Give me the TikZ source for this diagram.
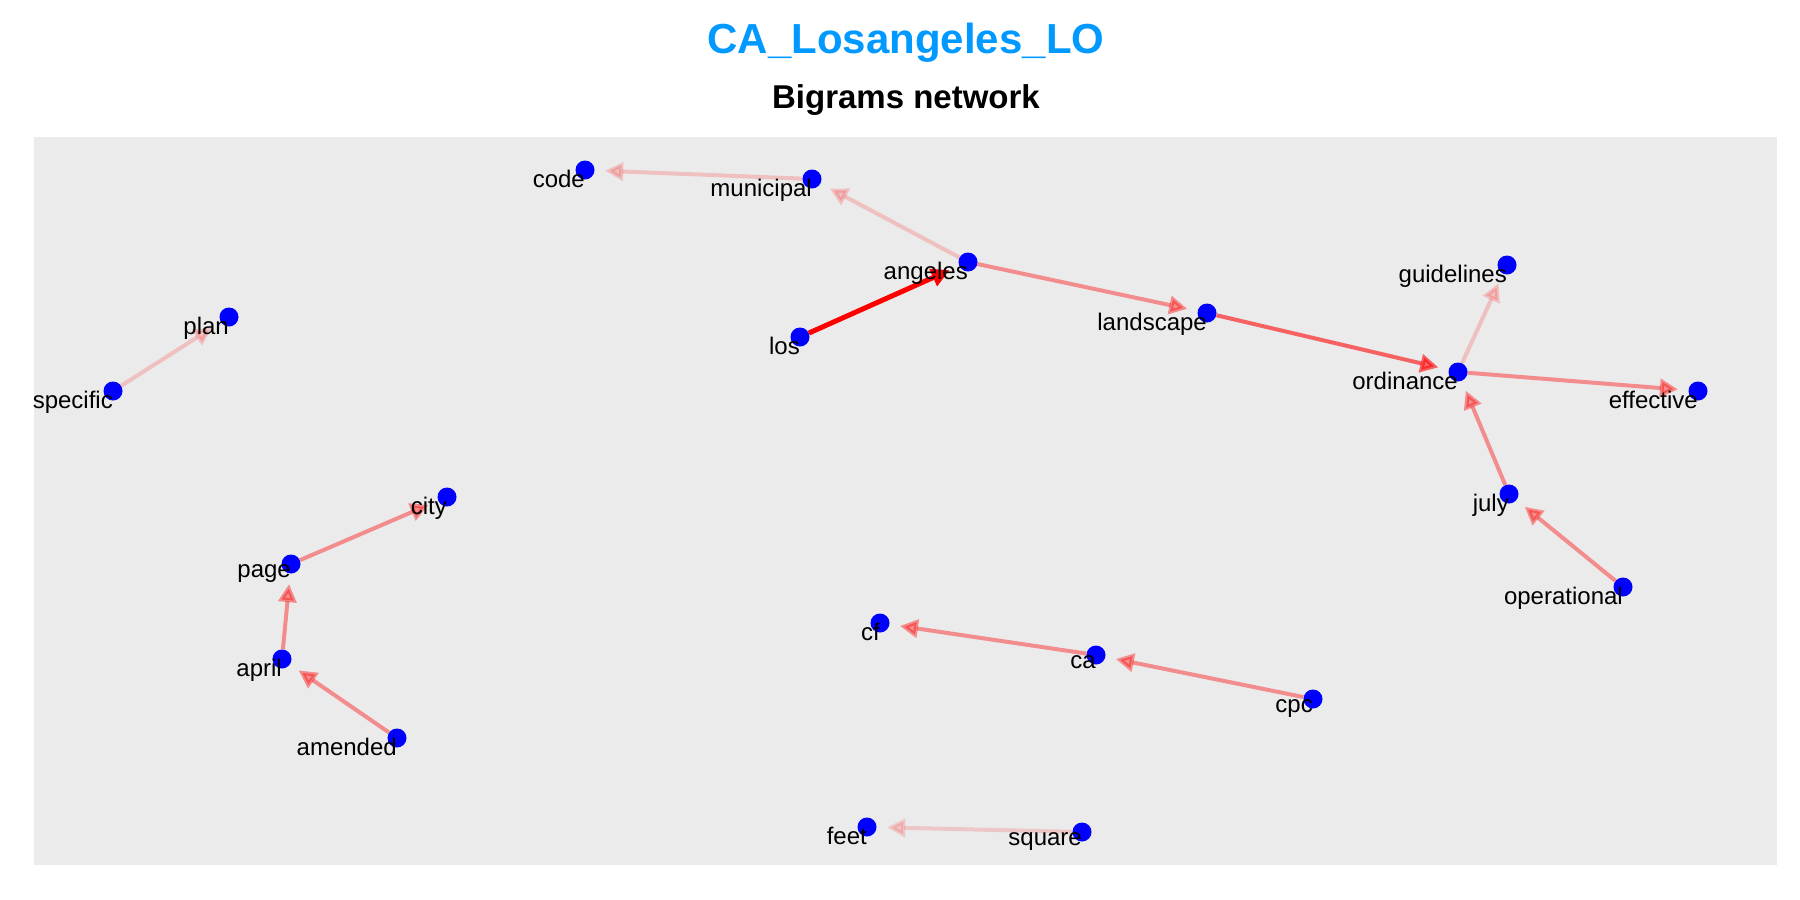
\documentclass[tikz,border=0pt]{standalone}
\usepackage{fontspec}
\setmainfont{Liberation Sans}
\usetikzlibrary{arrows.meta}
\pgfdeclarelayer{panel}
\pgfdeclarelayer{edgelayer}
\pgfsetlayers{panel,edgelayer,main}
\definecolor{panelgray}{RGB}{235,235,235}
\definecolor{titleblue}{RGB}{0,153,255}
\definecolor{dotblue}{RGB}{0,0,255}
\tikzset{
  dot/.style={circle,fill=dotblue,inner sep=0pt,minimum size=19pt},
  lab/.style={anchor=north east,inner sep=0pt,font=\fontsize{24}{24}\selectfont,text=black},
  edge/.style={draw=red,line width=4pt,shorten >=10.5pt,
    -{Triangle[length=18pt,width=18pt]}},
  wlight/.style={edge,opacity=0.18},
  wmid/.style={edge,opacity=0.4},
  wstrong/.style={edge,opacity=0.58},
  wfull/.style={edge,line width=5pt,opacity=1}
}
\begin{document}
\begin{tikzpicture}[x=1pt,y=-1pt]
\useasboundingbox (0,0) rectangle (1800,900);
\begin{pgfonlayer}{panel}
\fill[white] (0,0) rectangle (1800,900);
\fill[panelgray] (34,137) rectangle (1777,865);
\end{pgfonlayer}
\node[anchor=base,inner sep=0pt,text=titleblue,font=\fontsize{42}{42}\selectfont\bfseries] (title) at (906,53) {CA\_Losangeles\_LO};
\node[anchor=base,inner sep=0pt,font=\fontsize{33}{33}\selectfont\bfseries] (subtitle) at (906,108) {Bigrams network};
\foreach \n/\x/\y in {code/585/170, municipal/812/179, angeles/968/262, los/800/337,
  landscape/1207/313, guidelines/1507/265, ordinance/1458/372, effective/1698/391,
  july/1509/494, operational/1623/587, plan/229/317, specific/113/391,
  city/447/497, page/291/564, april/282/659, amended/397/738,
  cf/880/623, ca/1096/655, cpc/1313/699, feet/867/827, square/1082/832}
  {\node[dot] (\n) at (\x,\y) {};}
\begin{pgfonlayer}{edgelayer}
\draw[wfull] (los) -- (angeles);
\draw[wmid] (angeles) -- (landscape);
\draw[wstrong] (landscape) -- (ordinance);
\draw[wmid] (ordinance) -- (effective);
\draw[wlight] (ordinance) -- (guidelines);
\draw[wmid] (july) -- (ordinance);
\draw[wmid] (operational) -- (july);
\draw[wlight] (angeles) -- (municipal);
\draw[wlight] (municipal) -- (code);
\draw[wlight] (specific) -- (plan);
\draw[wmid] (page) -- (city);
\draw[wmid] (april) -- (page);
\draw[wmid] (amended) -- (april);
\draw[wmid] (ca) -- (cf);
\draw[wmid] (cpc) -- (ca);
\draw[wlight,opacity=0.15] (square) -- (feet);
\end{pgfonlayer}
\foreach \n in {code,municipal,angeles,los,landscape,guidelines,ordinance,effective,
  july,operational,plan,specific,city,page,april,amended,cf,ca,cpc,feet,square}
  {\node[lab] (\n-l) at (\n.center) {\n};}
\end{tikzpicture}
\end{document}
